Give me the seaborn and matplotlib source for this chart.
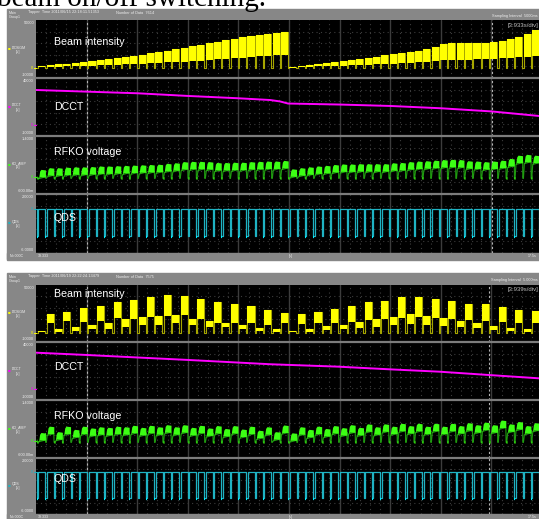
import numpy as np
import pandas as pd
import matplotlib
matplotlib.use("Agg")
import matplotlib.pyplot as plt
from matplotlib.patches import Rectangle
import seaborn as sns

W, H = 539, 519

# ---- acquisition timing ----
SEC_PER_DIV = 3.933
N_DIV = 10
CYCLE_START = 0.754      # first extraction boundary [s]
CYCLE_PERIOD = 0.6506    # extraction cycle [s]

# ---- record 1 (2011/06/15) : per-cycle levels ----
beam1_top = [2100, 3100, 4100, 4700, 5700, 6700, 7800, 8300, 9300, 10900,
             11900, 12900, 14000, 15500, 16500, 18100, 19600, 21200, 22700, 24300,
             25800, 27400, 29000, 30500, 32000, 33100, 34100, 35700, 36700, 37200,
             1600, 2600, 3600, 4700, 5200, 6200, 7200, 8300, 9300, 10900,
             11900, 13400, 14500, 15500, 16500, 18100, 19600, 21700, 24800, 25800,
             25800, 25800, 26400, 26400, 26900, 27900, 30000, 32000, 35200, 39300, 41400]
beam1_low = [1000, 1400, 1800, 2000, 2300, 2600, 2900, 3100, 3400, 3800,
             4100, 4400, 4800, 5200, 5600, 6100, 6500, 7000, 7500, 8000,
             8600, 9200, 9800, 10400, 11000, 11700, 12300, 13000, 13600, 14200,
             800, 1200, 1600, 2000, 2200, 2500, 2800, 3100, 3400, 3800,
             4100, 4600, 5000, 5400, 5800, 6400, 7000, 7600, 8300, 8800,
             9000, 9000, 9200, 9300, 9500, 10200, 10800, 11500, 12200, 12900, 13500]
rfko1_top = [0.25, 0.31, 0.31, 0.33, 0.34, 0.34, 0.35, 0.37, 0.37, 0.38,
             0.39, 0.40, 0.41, 0.42, 0.43, 0.46, 0.48, 0.52, 0.53, 0.53,
             0.52, 0.49, 0.49, 0.50, 0.50, 0.52, 0.53, 0.54, 0.54, 0.56,
             0.27, 0.31, 0.34, 0.37, 0.39, 0.42, 0.44, 0.44, 0.45, 0.45,
             0.45, 0.45, 0.48, 0.49, 0.52, 0.54, 0.55, 0.57, 0.59, 0.60,
             0.59, 0.55, 0.54, 0.52, 0.54, 0.57, 0.63, 0.74, 0.77, 0.74, 0.70]
dcct1_t = [0.0, 3.96, 7.93, 11.81, 15.70, 18.19, 18.97, 19.59, 23.55, 27.52, 31.48, 35.44, 39.10]
dcct1_v = [31800, 30300, 28800, 26400, 24300, 22700, 21400, 19500, 18600, 17300, 15200, 12300, 8200]

# ---- record 2 (2011/06/19) : per-cycle levels ----
beam2_top = [2100, 19000, 3900, 22100, 5300, 26000, 7400, 27400, 10500, 31600,
             14700, 34700, 16800, 36900, 17200, 39000, 17900, 37900, 14400, 35500,
             11900, 31900, 10200, 29500, 8400, 27700, 4900, 24200, 3200, 20700,
             2100, 20000, 3900, 21400, 6600, 25000, 8400, 27700, 10800, 31900,
             14400, 33000, 16500, 36900, 19000, 37600, 17200, 35500, 15500, 33000,
             12600, 30200, 10200, 29500, 6600, 26600, 4900, 24200, 3200, 22400, 2100]
beam2_low = [500, 10200, 1000, 11600, 2000, 11500, 3200, 11600, 4200, 15300,
             6300, 13700, 8400, 15800, 8400, 17600, 9500, 17900, 8400, 13700,
             6300, 10500, 6300, 10500, 3200, 9500, 2100, 8400, 1000, 10200,
             600, 9000, 1000, 9500, 2500, 10500, 3500, 11500, 4500, 13500,
             6300, 14000, 7500, 15000, 8500, 16000, 8000, 15000, 7000, 14000,
             5500, 13000, 4500, 12500, 3000, 11500, 2000, 10500, 1000, 10000, 600]
rfko2_top = [0.28, 0.50, 0.31, 0.50, 0.39, 0.50, 0.44, 0.48, 0.46, 0.50,
             0.48, 0.53, 0.46, 0.53, 0.48, 0.55, 0.48, 0.55, 0.46, 0.53,
             0.44, 0.52, 0.42, 0.52, 0.40, 0.50, 0.36, 0.48, 0.31, 0.54,
             0.27, 0.48, 0.39, 0.50, 0.42, 0.52, 0.45, 0.55, 0.46, 0.58,
             0.48, 0.58, 0.50, 0.60, 0.52, 0.60, 0.50, 0.60, 0.50, 0.60,
             0.52, 0.62, 0.55, 0.64, 0.55, 0.71, 0.58, 0.66, 0.52, 0.62, 0.45]
dcct2_t = [0.0, 3.96, 7.93, 11.81, 18.19, 23.47, 27.44, 31.40, 35.21, 39.10]
dcct2_v = [33000, 30900, 28600, 26400, 22500, 20300, 17900, 15700, 12700, 9700]

QDS_LOW = -3.7
RF_DIP = -0.06
RF_BAND = 0.26

FRAME = "#878787"
YELLOW = "#ffff00"
OLIVE = "#a6a600"
MAGENTA = "#ff00ff"
GREEN = "#3cff14"
DKGREEN = "#1f9a10"
TEAL = "#1fb3c3"
CYAN = "#00f0ff"
GRIDC = "#3c3c3c"

sns.set_style("dark")
plt.rcParams["font.family"] = ["Liberation Sans", "DejaVu Sans"]

fig = plt.figure(figsize=(W / 100, H / 100), dpi=100)
fig.patch.set_facecolor("white")

T_END = SEC_PER_DIV * N_DIV


def px_axes(x0, y0, x1, y1):
    return fig.add_axes([x0 / W, 1 - y1 / H, (x1 - x0) / W, (y1 - y0) / H])


def px_text(x, y, s, **kw):
    fig.text(x / W, 1 - y / H, s, **kw)


def boundaries(n):
    return [CYCLE_START + (i - 1) * CYCLE_PERIOD for i in range(n)]


def draw_beam(ax, tops, lows):
    rows = []
    for b, top, low in zip(boundaries(len(tops)), tops, lows):
        s, e = b + 0.07, b + CYCLE_PERIOD - 0.03
        ax.fill_between([s, e], [low, low], [top, top], color=YELLOW, lw=0, zorder=4)
        rows += [(b, 0), (s, 0), (s, top), (e, top), (e, 0)]
    df = pd.DataFrame(rows, columns=["t", "v"])
    sns.lineplot(data=df, x="t", y="v", ax=ax, color=OLIVE, lw=0.8,
                 estimator=None, sort=False, zorder=3)


def draw_rfko(ax, tops):
    rows = []
    for b, top in zip(boundaries(len(tops)), tops):
        s, e = b + 0.12, b + CYCLE_PERIOD - 0.02
        low = top - RF_BAND
        xs = [s, s + 0.06, s + 0.16, e]
        ax.fill_between(xs, [low - 0.06, low, low, low],
                        [low + 0.02, top - 0.06, top, top - 0.02],
                        color=GREEN, lw=0, zorder=4)
        ax.plot([b, b + 0.05], [RF_DIP, RF_DIP], color=GREEN, lw=1.8,
                solid_capstyle="butt", zorder=4)
        rows += [(b - 0.01, low), (b, RF_DIP), (b + 0.05, RF_DIP), (s, low - 0.06), (e, low)]
    df = pd.DataFrame(rows, columns=["t", "v"])
    sns.lineplot(data=df, x="t", y="v", ax=ax, color=DKGREEN, lw=0.8,
                 estimator=None, sort=False, zorder=3)


def draw_qds(ax, n):
    rows = []
    for b in boundaries(n):
        rows += [(b - 0.02, 0), (b - 0.02, QDS_LOW), (b + 0.09, QDS_LOW), (b + 0.09, 0)]
        ax.plot([b - 0.02, b + 0.03], [QDS_LOW - 0.1] * 2, color=CYAN, lw=1.6,
                solid_capstyle="butt", zorder=4)
    df = pd.DataFrame(rows, columns=["t", "v"])
    sns.lineplot(data=df, x="t", y="v", ax=ax, color=TEAL, lw=0.9,
                 estimator=None, sort=False, zorder=3)


def draw_dcct(ax, t, v):
    sns.lineplot(x=t, y=v, ax=ax, color=MAGENTA, lw=1.4, zorder=4)


def style_axes(ax, ylim, cursors):
    ax.set_facecolor("black")
    ax.set_xlim(0, T_END)
    ax.set_ylim(*ylim)
    ax.grid(False)
    for sp in ax.spines.values():
        sp.set_visible(False)
    ax.set_xticks([])
    ax.set_yticks([])
    ax.set_xlabel("")
    ax.set_ylabel("")
    minor = SEC_PER_DIV / 5
    for j in range(1, N_DIV * 5):
        if j % 5:
            ax.axvline(j * minor, color=GRIDC, lw=0.8, ls=(0, (1, 3)), zorder=1)
        else:
            ax.axvline(j * minor, color=GRIDC, lw=1.0, zorder=1)
    y0, y1 = ylim
    for j in range(1, 5):
        ax.axhline(y0 + (y1 - y0) * j / 5, color=GRIDC, lw=0.8, ls=(0, (1, 3)), zorder=1)
    for c in cursors:
        ax.axvline(c, color="#b4b4b4", lw=0.8, ls=(0, (2, 2)), zorder=2)


def panel(y_top, y_bot, plot_top, bounds, data, meta, cursors):
    # grey instrument frame
    fig.add_artist(Rectangle((7 / W, 1 - y_bot / H), (W - 7) / W, (y_bot - y_top) / H,
                             transform=fig.transFigure, color=FRAME, zorder=0))
    px_text(9, y_top + 2.2, "Main\nGroup1", fontsize=2.6, color="#eeeeee", va="top", linespacing=0.9)
    px_text(28, y_top + 3.5, meta["header"], fontsize=2.8, color="#eeeeee", va="center")
    px_text(116, y_top + 3.5, meta["ndata"], fontsize=2.8, color="#eeeeee", va="center")
    px_text(538, y_top + 7, meta["interval"], fontsize=2.8, color="#eeeeee", va="center", ha="right")

    chans = ["beam", "dcct", "rfko", "qds"]
    for i, ch in enumerate(chans):
        ya, yb = bounds[i], bounds[i + 1]
        ax = px_axes(36, ya, 542, yb)
        info = meta["chan"][ch]
        style_axes(ax, info["ylim"], cursors)
        if ch == "beam":
            draw_beam(ax, *data["beam"])
        elif ch == "dcct":
            draw_dcct(ax, *data["dcct"])
        elif ch == "rfko":
            draw_rfko(ax, data["rfko"])
        else:
            draw_qds(ax, 61)
        ax.text(0.035, info["ty"], info["title"], transform=ax.transAxes,
                color="white", fontsize=7.7, va="center", zorder=6)
        # left scale annotations
        px_text(34, ya + 3, info["top"], fontsize=2.8, color="#f0f0f0", ha="right", va="center")
        px_text(34, yb - 3, info["bot"], fontsize=2.8, color="#f0f0f0", ha="right", va="center")
        ymid = ya + (yb - ya) * 0.5
        px_text(8, ymid - 1, "\u25a0", fontsize=3.2, color=info["color"], va="center")
        px_text(12, ymid - 1.5, info["tag"], fontsize=2.6, color="#f0f0f0", va="center")
        px_text(16, ymid + 2.5, "[V]", fontsize=2.6, color="#f0f0f0", va="center")
        lo, hi = info["ylim"]
        yz = yb - (yb - ya) * (0 - lo) / (hi - lo)
        px_text(33, yz, "0", fontsize=2.8, color=info["color"], ha="right", va="center")
        fig.add_artist(plt.Line2D([33.5 / W, 36 / W], [1 - yz / H] * 2, color=info["color"], lw=0.8))
        if i > 0:
            fig.add_artist(plt.Line2D([36 / W, 1], [1 - ya / H] * 2, color="#7c7c7c", lw=1.6, zorder=10))

    # footer
    yf = bounds[-1]
    fig.add_artist(Rectangle((7 / W, 1 - (yf + 6) / H), (W - 7) / W, 6 / H,
                             transform=fig.transFigure, color=FRAME, zorder=9))
    px_text(10, yf + 3, "No.000C", fontsize=2.6, color="#f0f0f0", va="center", zorder=11)
    px_text(38, yf + 3, "39.333", fontsize=2.6, color="#f0f0f0", va="center", zorder=11)
    px_text(289, yf + 3, "[s]", fontsize=2.6, color="#f0f0f0", va="center", zorder=11)
    px_text(537, yf + 3, "17.5s", fontsize=2.6, color="#f0f0f0", va="center", ha="right", zorder=11)
    px_text(538, plot_top + 5, meta["div"], fontsize=4.3, color="#bdbdbd", ha="right",
            va="center", zorder=12)


common = {
    "beam": dict(title="Beam intensity", ty=0.62, ylim=(-10000, 50000), top="50000",
                 bot="-10000", tag="DCSIGM", color=YELLOW),
    "dcct": dict(title="DCCT", ty=0.5, ylim=(-10000, 42700), top="40000",
                 bot="-10000", tag="DCCT", color=MAGENTA),
    "rfko": dict(title="RFKO voltage", ty=0.72, ylim=(-0.6, 1.4), top="1.4000",
                 bot="-600.00m", tag="KO_AMP", color=GREEN),
    "qds": dict(title="QDS", ty=0.6, ylim=(-6.0, 2.0), top="2.0000",
                bot="-6.0000", tag="QDS", color=TEAL),
}

meta1 = dict(header="Tapper  Time 2011/06/15 22:18:11.51353",
             ndata="Number of Data  7614", interval="Sampling Interval  5000ms",
             div="[3.933s/div]", chan=common)
meta2 = dict(header="Tapper  Time 2011/06/19 22:22:24.13479",
             ndata="Number of Data  7575", interval="Sampling Interval  5.000ms",
             div="[3.939s/div]")
meta2["chan"] = {k: dict(v) for k, v in common.items()}
meta2["chan"]["beam"]["ty"] = 0.85
meta2["chan"]["dcct"]["ty"] = 0.57
meta2["chan"]["qds"]["ty"] = 0.62

panel(9, 260, 20, [20, 78, 136, 194, 253],
      dict(beam=(beam1_top, beam1_low), dcct=(dcct1_t, dcct1_v), rfko=rfko1_top),
      meta1, cursors=[3.96, 35.44])
panel(273, 519, 285, [285, 342, 400, 458, 514],
      dict(beam=(beam2_top, beam2_low), dcct=(dcct2_t, dcct2_v), rfko=rfko2_top),
      meta2, cursors=[3.96, 35.21])

# caption line above the first record
px_text(-3, 6, "beam on/off switching.", fontsize=21, color="black",
        family=["Liberation Serif", "DejaVu Serif"], va="baseline")

fig.savefig("out.png", dpi=100, facecolor="white")
